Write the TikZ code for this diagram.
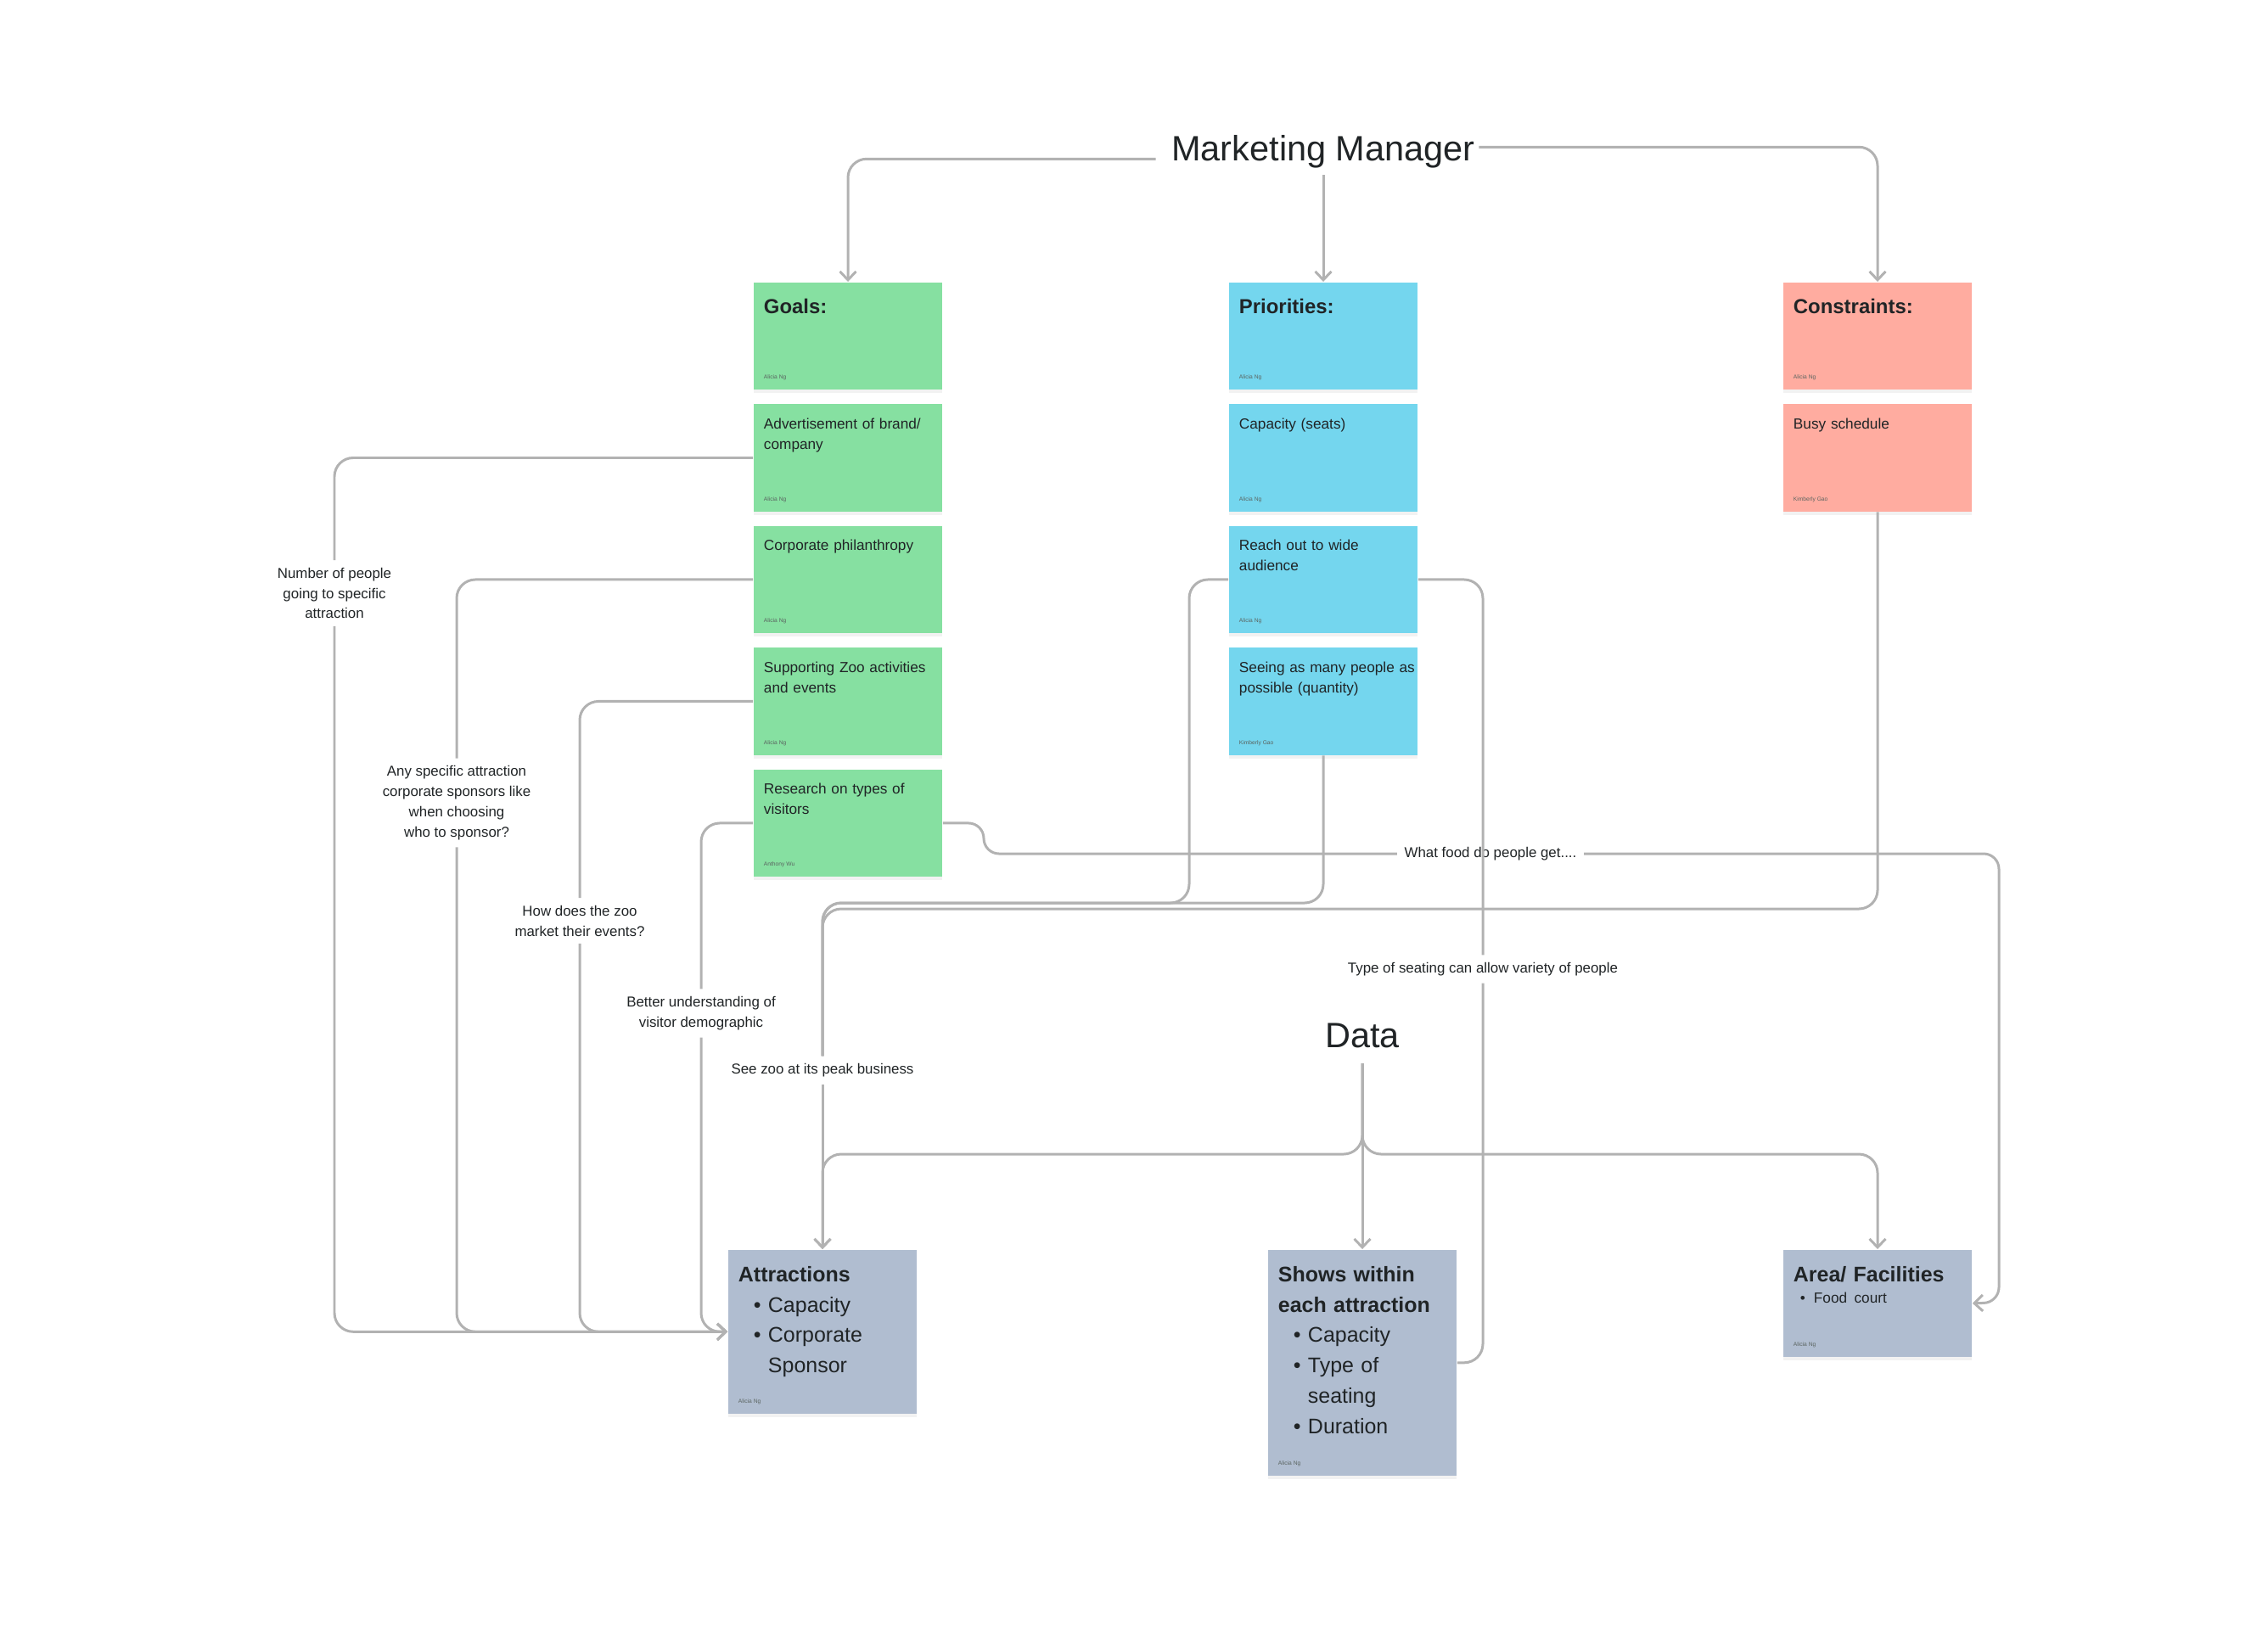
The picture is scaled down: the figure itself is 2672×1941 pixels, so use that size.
\documentclass[tikz,border=0pt]{standalone}
\usepackage{fontspec}
\setmainfont{Liberation Sans}
\usetikzlibrary{arrows.meta,positioning,shadows}
\definecolor{GoalGreen}{RGB}{134,224,161}
\definecolor{PrioBlue}{RGB}{116,214,238}
\definecolor{LimitRed}{RGB}{255,172,160}
\definecolor{DataSlate}{RGB}{176,189,208}
\definecolor{LinkGray}{RGB}{178,178,178}
\definecolor{InkDark}{RGB}{32,36,38}
\definecolor{SignGray}{RGB}{90,100,96}
\newcommand{\bul}{\hspace*{0.18cm}\makebox[0.17cm][l]{\textbullet}}
\newcommand{\bulcont}{\hspace*{0.35cm}}

\begin{document}
\begin{tikzpicture}[
  x=0.01cm, y=-0.01cm,
  every node/.style={text=InkDark},
  sticky/.style={rectangle,fill=#1,minimum width=2.22cm,inner xsep=0.12cm,inner ysep=0pt,text width=1.98cm,align=left,
    text height=0.29cm,text depth=0.975cm,font=\fontsize{4.9}{6.8}\selectfont,
    drop shadow={shadow xshift=0cm,shadow yshift=-0.04cm,opacity=0.1}},
  head/.style={sticky=#1,text height=0.37cm,text depth=0.895cm,font=\fontsize{6.8}{10.2}\selectfont\bfseries},
  slate/.style={sticky=DataSlate,text height=0.375cm,font=\fontsize{7.1}{10.2}\selectfont},
  sign/.style={font=\fontsize{1.9}{2.3}\selectfont,text=SignGray,inner sep=0pt},
  title/.style={font=\fontsize{11.8}{14}\selectfont,inner xsep=0.1cm,inner ysep=0.08cm},
  note/.style={font=\fontsize{4.8}{6.8}\selectfont,align=center,inner sep=0.08cm},
  link/.style={draw=LinkGray,line width=0.85pt,rounded corners=0.22cm},
  arr/.style={link,-{Straight Barb[length=1mm,width=1.9mm]}}
]
\useasboundingbox (0,0) rectangle (2672,1941);

\node[title,anchor=base] (mm) at (1559,189) {Marketing Manager};
\node[title,anchor=base,inner ysep=0.18cm] (data) at (1605,1234) {Data};

% goals
\node[head=GoalGreen,anchor=north] (goals) at (999,332) {Goals:};
\node[sticky=GoalGreen,below=0.155cm of goals] (adv) {Advertisement of brand/\\company};
\node[sticky=GoalGreen,below=0.155cm of adv] (corp) {Corporate philanthropy};
\node[sticky=GoalGreen,below=0.155cm of corp] (supp) {Supporting Zoo activities\\and events};
\node[sticky=GoalGreen,below=0.155cm of supp] (research) {Research on types of\\visitors};

% priorities
\node[head=PrioBlue,anchor=north] (prio) at (1559,332) {Priorities:};
\node[sticky=PrioBlue,below=0.155cm of prio] (cap) {Capacity (seats)};
\node[sticky=PrioBlue,below=0.155cm of cap] (reach) {Reach out to wide\\audience};
\node[sticky=PrioBlue,below=0.155cm of reach] (seeing) {\mbox{Seeing as many people as}\\possible (quantity)};

% constraints
\node[head=LimitRed,anchor=north] (constr) at (2212,332) {Constraints:};
\node[sticky=LimitRed,below=0.155cm of constr] (busy) {Busy schedule};

% data cards
\node[slate,anchor=north,text depth=1.555cm] (attr) at (969,1472)
  {\textbf{Attractions}\\ \bul Capacity\\ \bul Corporate\\ \bulcont Sponsor};
\node[slate,anchor=north,text depth=2.285cm] (shows) at (1605,1472)
  {\textbf{Shows within}\\ \textbf{each attraction}\\ \bul Capacity\\ \bul Type of\\ \bulcont seating\\ \bul Duration};
\node[slate,anchor=north,text depth=0.885cm,font=\fontsize{7.1}{7.3}\selectfont] (area) at (2212,1472)
  {\textbf{Area/ Facilities}\\ {\fontsize{4.9}{7.3}\selectfont\hspace*{0.08cm}\makebox[0.16cm][l]{\textbullet}Food court}};

\foreach \c/\who in {goals/Alicia Ng,adv/Alicia Ng,corp/Alicia Ng,supp/Alicia Ng,research/Anthony Wu,
    prio/Alicia Ng,cap/Alicia Ng,reach/Alicia Ng,seeing/Kimberly Gao,constr/Alicia Ng,busy/Kimberly Gao,
    attr/Alicia Ng,shows/Alicia Ng,area/Alicia Ng}
  \node[sign,anchor=base west] (\c-sign) at ([shift={(0.12cm,0.13cm)}]\c.south west) {\who};

% labels on the connectors
\node[note] (numlbl) at (394,699) {Number of people\\going to specific\\attraction};
\node[note] (sponsorlbl) at (538,946) {Any specific attraction\\corporate sponsors like\\when choosing\\who to sponsor?};
\node[note] (eventlbl) at (683,1085) {How does the zoo\\market their events?};
\node[note] (demolbl) at (826,1194) {Better understanding of\\visitor demographic};
\node[note] (peaklbl) at (969,1261) {See zoo at its peak business};
\node[note] (foodlbl) at (1756,1006) {What food do people get....};
\node[note] (seatlbl) at (1747,1142) {Type of seating can allow variety of people};

\coordinate (hub) at (969,1064);
\coordinate (split) at (1605,1360);

\draw[arr] ([xshift=-0.08cm,yshift=-0.09cm]mm.west) -| (goals.north);
\draw[arr] (mm.south) -- (prio.north);
\draw[arr] ([xshift=-0.06cm,yshift=0.05cm]mm.east) -| (constr.north);

\draw[arr] (adv.west) -| (numlbl) |- (attr.west);
\draw[arr] (corp.west) -| (sponsorlbl) |- (attr.west);
\draw[arr] (supp.west) -| (eventlbl) |- (attr.west);
\draw[arr] (research.west) -| (demolbl) |- (attr.west);

\draw[link] (reach.west) -| (1401,1064) -- (hub) -- (peaklbl);
\draw[link] (seeing.south) |- (hub) -- (peaklbl);
\draw[link] (busy.south) |- (969,1071) -- (peaklbl);
\draw[arr] (peaklbl) -- (attr.north);

\draw[arr,rounded corners=0.18cm] (research.east) -| (1159,1006) -- (foodlbl) -| (2355,1535) -- (area.east);
\draw[link] (reach.east) -| (seatlbl) |- (shows.east);

\draw[arr] (data.south) -- (split) -| (attr.north);
\draw[arr] (data.south) -- (split) -| (area.north);
\draw[arr] (data.south) -- (shows.north);
\end{tikzpicture}
\end{document}
